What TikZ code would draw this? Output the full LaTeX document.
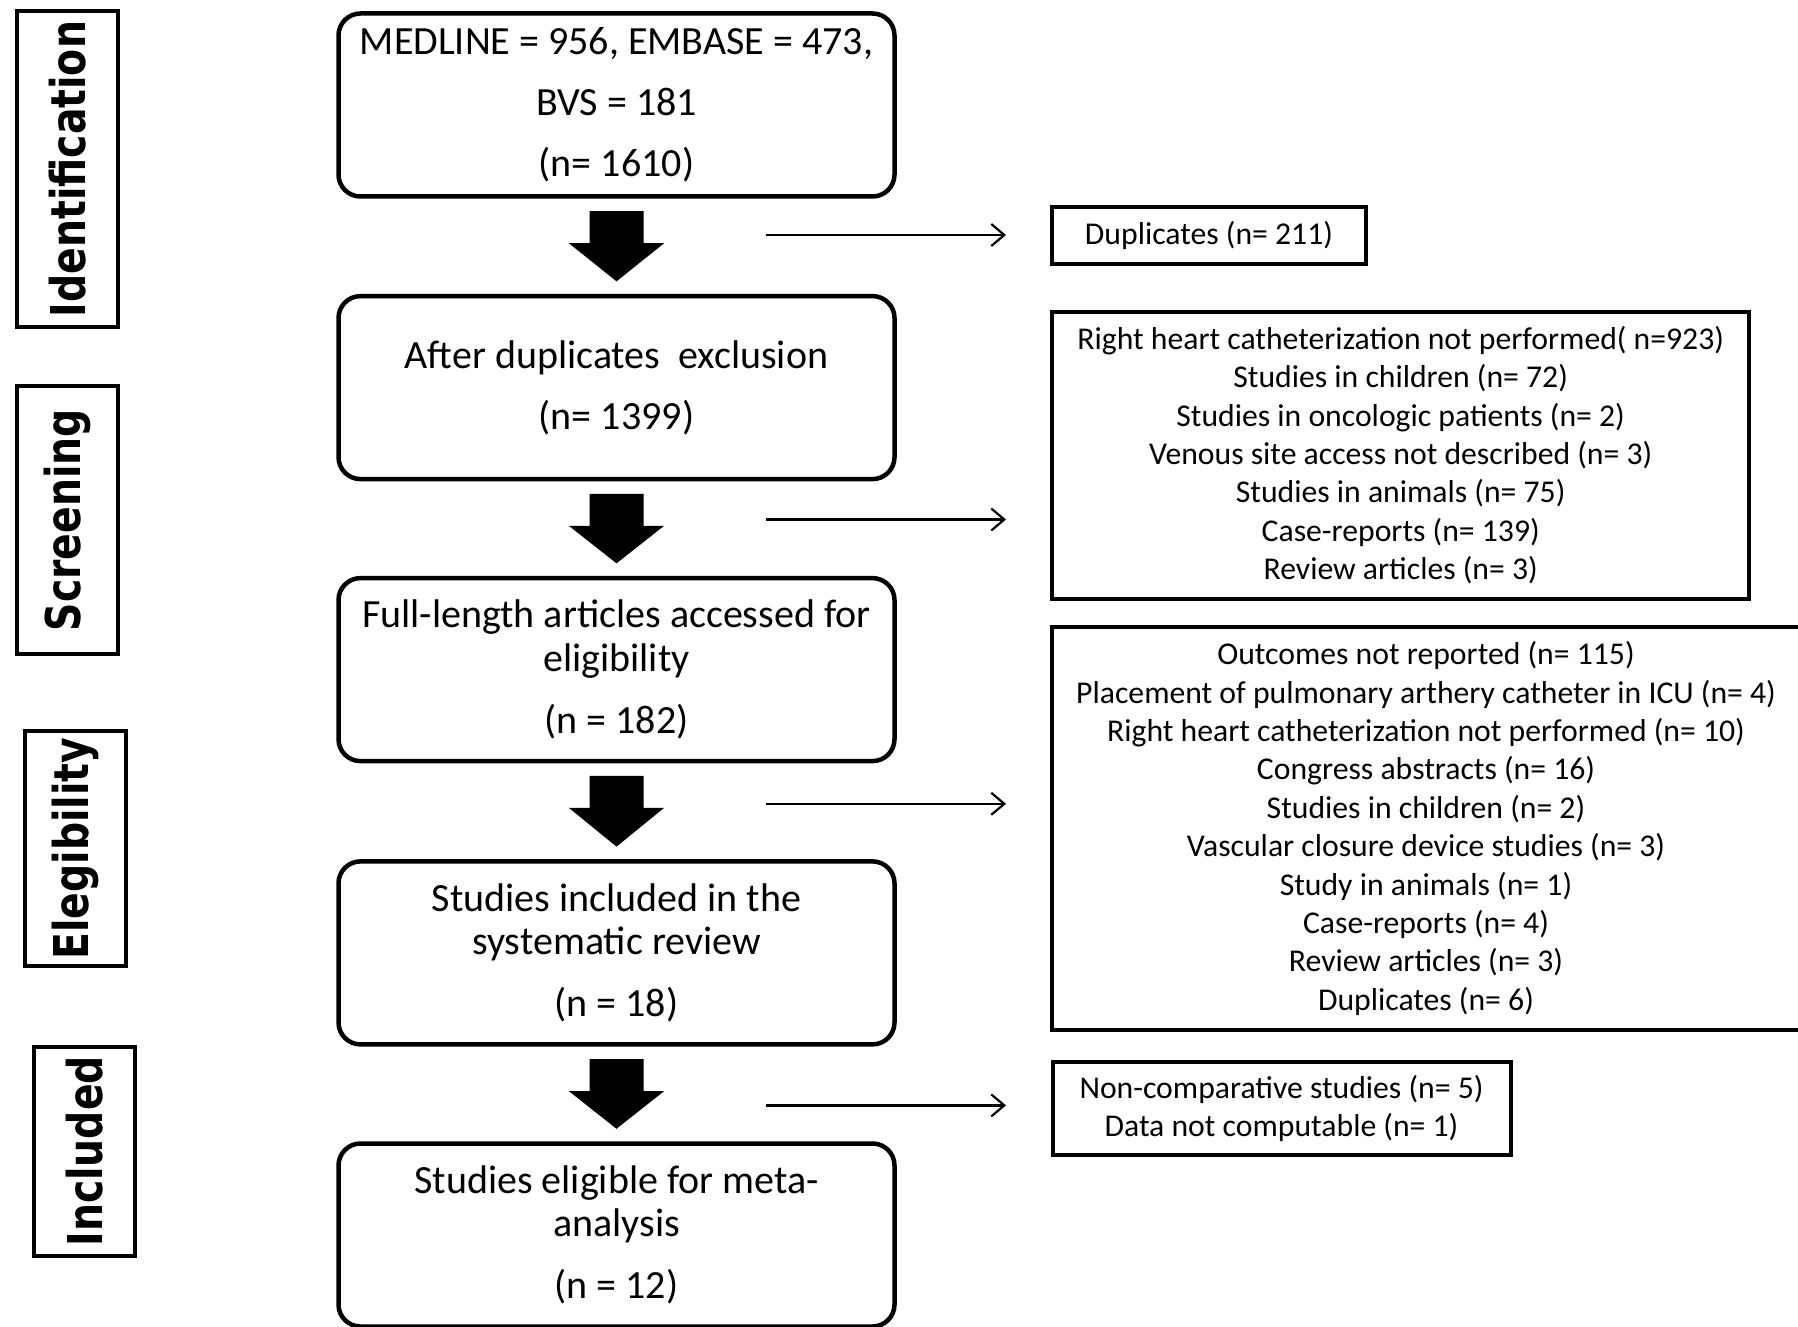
\documentclass[tikz,border=0pt]{standalone}
\usepackage{fontspec}
\usepackage{graphicx}
\setmainfont{Carlito}
\newfontfamily\labelfont{DejaVu Sans}
\usetikzlibrary{calc,arrows.meta}
\tikzset{
  mainbox/.style={draw, line width=4.5bp, rounded corners=22bp, minimum width=556bp, minimum height=183bp, align=center, inner sep=0pt,
    font=\fontsize{40bp}{43.6bp}\selectfont},
  exbox/.style={draw, line width=4bp, align=center, inner sep=0pt,
    font=\fontsize{31.7bp}{38.4bp}\selectfont},
  sidebox/.style={draw, line width=4bp, rotate=90, inner sep=0pt,
    font=\labelfont\bfseries\fontsize{48bp}{52bp}\selectfont},
  thinarrow/.style={line width=2.2bp, -{Straight Barb[length=13bp,width=22bp,line width=2.2bp]}}
}
\newcommand{\blockarr}[2]{%
  \fill ($(#1.south)+(-27,12.5)$) -- ($(#1.south)+(27,12.5)$) -- ($(#1.south)+(27,44.5)$)
    -- ($(#1.south)+(47.6,44.5)$) -- ($(#2.north)+(0,-12.5)$) -- ($(#1.south)+(-47.6,44.5)$)
    -- ($(#1.south)+(-27,44.5)$) -- cycle;}
\begin{document}
\begin{tikzpicture}[x=1bp,y=-1bp]
\useasboundingbox (0,0) rectangle (1798,1327);
\clip (0,0) rectangle (1798,1327);
\fill[white] (0,0) rectangle (1798,1327);
% side labels
\node[sidebox, minimum width=316bp, minimum height=101.5bp] (s1) at (67.7,169.1) {\scalebox{0.82}[1]{Identification}};
\node[sidebox, minimum width=268bp, minimum height=101.5bp] (s2) at (67.7,520) {\scalebox{0.82}[1]{Screening}};
\node[sidebox, minimum width=234.5bp, minimum height=101.5bp] (s3) at (75.6,848.6) {\scalebox{0.82}[1]{Elegibility}};
\node[sidebox, minimum width=209.3bp, minimum height=100.4bp] (s4) at (84.3,1151.3) {\scalebox{0.82}[1]{Included}};
% main boxes
\node[mainbox] (b1) at (616.5,105) {MEDLINE = 956, EMBASE = 473,\\[17.2bp] BVS = 181\\[17.2bp] (n= 1610)};
\node[mainbox] (b2) at (616.5,387.6) {After duplicates\ \ exclusion\\[17.2bp] (n= 1399)};
\node[mainbox] (b3) at (616.5,669.6) {Full-length articles accessed for\\ eligibility\\[18.3bp] (n = 182)};
\node[mainbox] (b4) at (616.5,952.9) {Studies included in the\\ systematic review\\[18.3bp] (n = 18)};
\node[mainbox] (b5) at (616.5,1235) {Studies eligible for meta-\\ analysis\\[18.3bp] (n = 12)};
% block arrows
\blockarr{b1}{b2}
\blockarr{b2}{b3}
\blockarr{b3}{b4}
\blockarr{b4}{b5}
% exclusion boxes
\node[exbox, minimum width=313.6bp, minimum height=56.7bp] (e1) at (1209,235.6) {Duplicates (n= 211)};
\node[exbox, minimum width=696.6bp, minimum height=287.3bp] (e2) at (1400.7,455.2) {Right heart catheterization not performed( n=923)\\ Studies in children (n= 72)\\ Studies in oncologic patients (n= 2)\\ Venous site access not described (n= 3)\\ Studies in animals (n= 75)\\ Case-reports (n= 139)\\ Review articles (n= 3)};
\node[exbox, minimum width=747.6bp, minimum height=403bp] (e3) at (1426,828.5) {Outcomes not reported (n= 115)\\ Placement of pulmonary arthery catheter in ICU (n= 4)\\ Right heart catheterization not performed (n= 10)\\ Congress abstracts (n= 16)\\ Studies in children (n= 2)\\ Vascular closure device studies (n= 3)\\ Study in animals (n= 1)\\ Case-reports (n= 4)\\ Review articles (n= 3)\\ Duplicates (n= 6)};
\node[exbox, minimum width=458bp, minimum height=93.4bp] (e4) at (1281.5,1108.3) {Non-comparative studies (n= 5)\\ Data not computable (n= 1)};
% thin arrows
\coordinate (t1s) at (766,235);   \coordinate (t1e) at (1006,235);
\coordinate (t2s) at (766,519.5); \coordinate (t2e) at (1006,519.5);
\coordinate (t3s) at (766,803.8); \coordinate (t3e) at (1006,803.8);
\coordinate (t4s) at (766,1105.4);\coordinate (t4e) at (1006,1105.4);
\draw[thinarrow] (t1s) -- (t1e);
\draw[thinarrow] (t2s) -- (t2e);
\draw[thinarrow] (t3s) -- (t3e);
\draw[thinarrow] (t4s) -- (t4e);
\end{tikzpicture}
\end{document}
